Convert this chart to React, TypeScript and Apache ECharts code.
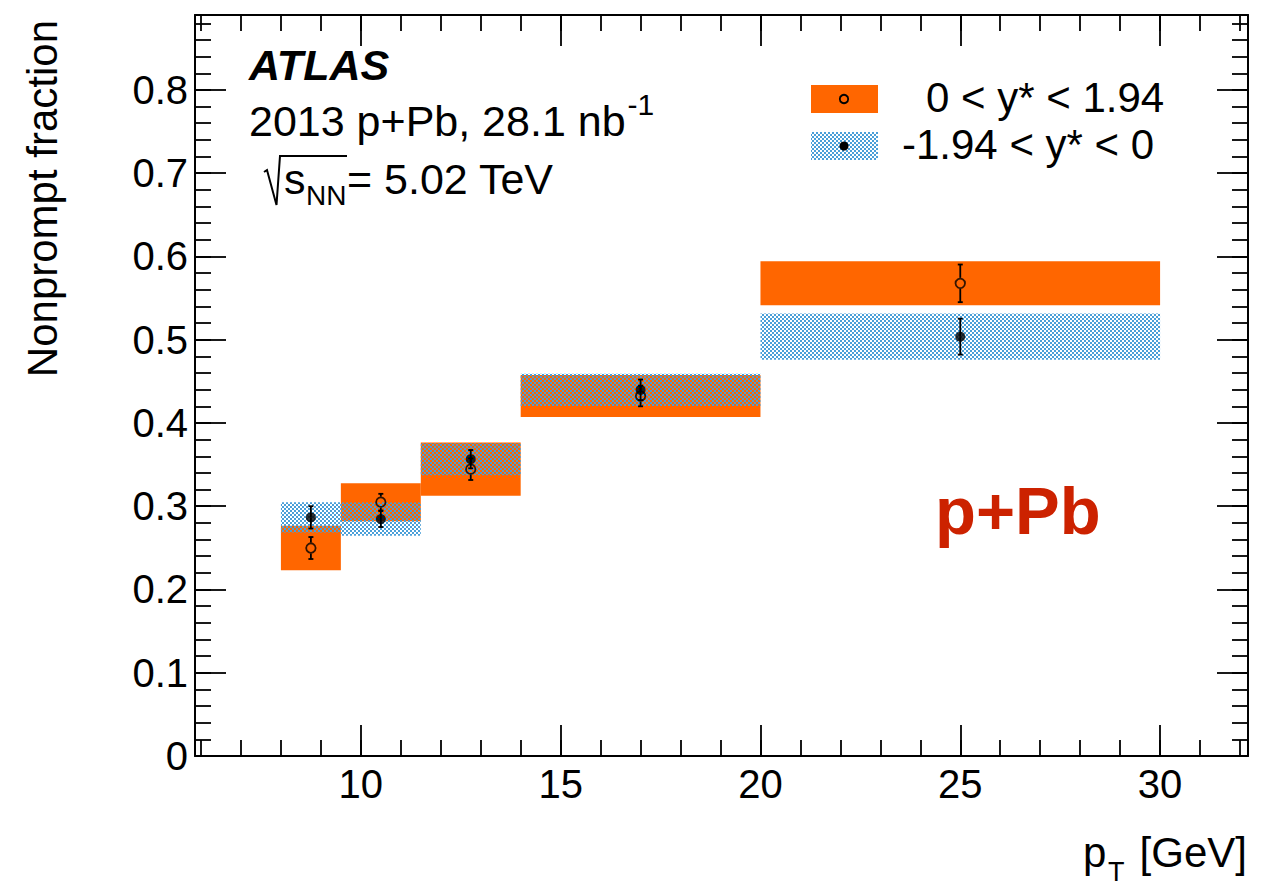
import React, { useEffect, useRef } from "react";
import * as echarts from "echarts";

// ---- Data ----
const binLow = [8, 9.5, 11.5, 14, 20];
const binHigh = [9.5, 11.5, 14, 20, 30];
const meanPt = [8.75, 10.5, 12.75, 17.0, 25.0];

// 0 < y* < 1.94 (orange, open markers)
const fwdValue = [0.2498, 0.3049, 0.3445, 0.4324, 0.5677];
const fwdStat = [0.0132, 0.01, 0.013, 0.0124, 0.0226];
const fwdSyst = [0.0266, 0.0228, 0.032, 0.0252, 0.0264];

// -1.94 < y* < 0 (blue hatched, filled markers)
const bwdValue = [0.2866, 0.2846, 0.3565, 0.4398, 0.5037];
const bwdStat = [0.0134, 0.0096, 0.011, 0.0124, 0.0216];
const bwdSyst = [0.0182, 0.02, 0.0192, 0.0194, 0.0278];

const xTickLabels = [10, 15, 20, 25, 30];
const yTickLabels = [0, 0.1, 0.2, 0.3, 0.4, 0.5, 0.6, 0.7, 0.8];

const legendLabels = ["0 < y* < 1.94", "-1.94 < y* < 0"];

const X_MIN = 5.85;
const X_MAX = 32.2;
const Y_MIN = 0;
const Y_MAX = 0.89;

const FONT = '"Liberation Sans", Arial, Helvetica, sans-serif';
const ORANGE = "#ff6600";
const BLUE = "#4a9fd8";

const xMinorTicks: number[] = [];
for (let v = 6; v <= 32; v++) xMinorTicks.push(v);
const yMinorTicks: number[] = [];
for (let k = 1; k <= 44; k++) yMinorTicks.push(+(k * 0.02).toFixed(2));

export default function App() {
  const ref = useRef<HTMLDivElement>(null);

  useEffect(() => {
    document.body.style.margin = "0";
    if (!ref.current) return;
    const chart = echarts.init(ref.current, null, { renderer: "svg" });

    // checker pattern for the hatched band
    const cv = document.createElement("canvas");
    cv.width = 4;
    cv.height = 4;
    const cx = cv.getContext("2d")!;
    cx.fillStyle = BLUE;
    cx.fillRect(0, 0, 2, 2);
    cx.fillRect(2, 2, 2, 2);
    const pattern: any = {
      image: cv.toDataURL(),
      repeat: "repeat",
      imageWidth: 4,
      imageHeight: 4,
    };

    const mc = document.createElement("canvas").getContext("2d")!;
    mc.font = `43px ${FONT}`;
    const lumiText = "2013 p+Pb, 28.1 nb";
    const lumiW = mc.measureText(lumiText).width;

    const boxSeries = (name: string, vals: number[], syst: number[], fill: any) => ({
      type: "custom",
      name,
      xAxisIndex: 0,
      yAxisIndex: 0,
      data: binLow.map((lo, i) => [lo, binHigh[i], vals[i], syst[i]]),
      encode: { x: [0, 1], y: 2 },
      renderItem: (_p: any, api: any) => {
        const p1 = api.coord([api.value(0), api.value(2) + api.value(3)]);
        const p2 = api.coord([api.value(1), api.value(2) - api.value(3)]);
        return {
          type: "rect",
          shape: { x: p1[0], y: p1[1], width: p2[0] - p1[0], height: p2[1] - p1[1] },
          style: { fill },
        };
      },
    });

    const errSeries = (name: string, vals: number[], stat: number[], gap: number) => ({
      type: "custom",
      name,
      xAxisIndex: 0,
      yAxisIndex: 0,
      data: meanPt.map((x, i) => [x, vals[i], stat[i]]),
      encode: { x: 0, y: 1 },
      renderItem: (_p: any, api: any) => {
        const x = api.value(0);
        const v = api.value(1);
        const e = api.value(2);
        const c = api.coord([x, v]);
        const t = api.coord([x, v + e]);
        const b = api.coord([x, v - e]);
        const st = { stroke: "#000", lineWidth: 1.8 };
        return {
          type: "group",
          children: [
            { type: "line", shape: { x1: c[0], y1: t[1], x2: c[0], y2: c[1] - gap }, style: st },
            { type: "line", shape: { x1: c[0], y1: c[1] + gap, x2: c[0], y2: b[1] }, style: st },
            { type: "line", shape: { x1: c[0] - 2.5, y1: t[1], x2: c[0] + 2.5, y2: t[1] }, style: st },
            { type: "line", shape: { x1: c[0] - 2.5, y1: b[1], x2: c[0] + 2.5, y2: b[1] }, style: st },
          ],
        };
      },
    });

    const tickLine = { color: "#000", width: 1.8 };
    const frameLine = { show: true, onZero: false, lineStyle: { color: "#000", width: 2 } };
    const hiddenLine = { show: false, onZero: false };

    const xAxisMajor = (position: "bottom" | "top", showLabel: boolean) => ({
      type: "value",
      gridIndex: 0,
      position,
      min: X_MIN,
      max: X_MAX,
      axisLine: frameLine,
      axisTick: { show: true, inside: true, length: 31, lineStyle: tickLine, customValues: xTickLabels },
      axisLabel: {
        show: showLabel,
        customValues: xTickLabels,
        fontSize: 40,
        fontFamily: FONT,
        color: "#000",
        margin: 8,
      },
      splitLine: { show: false },
    });
    const xAxisMinor = (position: "bottom" | "top") => ({
      type: "value",
      gridIndex: 1,
      position,
      min: X_MIN,
      max: X_MAX,
      axisLine: hiddenLine,
      axisTick: { show: true, inside: true, length: 16, lineStyle: tickLine, customValues: xMinorTicks },
      axisLabel: { show: false },
      splitLine: { show: false },
    });
    const yAxisMajor = (position: "left" | "right", showLabel: boolean) => ({
      type: "value",
      gridIndex: 0,
      position,
      min: Y_MIN,
      max: Y_MAX,
      axisLine: frameLine,
      axisTick: { show: true, inside: true, length: 31, lineStyle: tickLine, customValues: yTickLabels },
      axisLabel: {
        show: showLabel,
        customValues: yTickLabels,
        fontSize: 40,
        fontFamily: FONT,
        color: "#000",
        margin: 7,
        formatter: (v: number) => String(+(+v).toFixed(2)),
      },
      splitLine: { show: false },
    });
    const yAxisMinor = (position: "left" | "right") => ({
      type: "value",
      gridIndex: 1,
      position,
      min: Y_MIN,
      max: Y_MAX,
      axisLine: hiddenLine,
      axisTick: { show: true, inside: true, length: 16, lineStyle: tickLine, customValues: yMinorTicks },
      axisLabel: { show: false },
      splitLine: { show: false },
    });

    const txt = (text: string, x: number, y: number, size: number, extra: any = {}) => ({
      type: "text",
      x,
      y,
      silent: true,
      style: {
        text,
        fontSize: size,
        fontFamily: FONT,
        fill: "#000",
        align: "left",
        verticalAlign: "middle",
        ...extra,
      },
    });

    const gridRect = {
      left: 195,
      right: 24,
      top: 15,
      bottom: 133,
      containLabel: false,
      outerBoundsMode: "none",
    };

    const option: any = {
      animation: false,
      backgroundColor: "#fff",
      grid: [{ ...gridRect }, { ...gridRect }],
      xAxis: [xAxisMajor("bottom", true), xAxisMajor("top", false), xAxisMinor("bottom"), xAxisMinor("top")],
      yAxis: [yAxisMajor("left", true), yAxisMajor("right", false), yAxisMinor("left"), yAxisMinor("right")],
      series: [
        boxSeries(legendLabels[0] + " syst", fwdValue, fwdSyst, ORANGE),
        boxSeries(legendLabels[1] + " syst", bwdValue, bwdSyst, pattern),
        errSeries(legendLabels[0] + " stat", fwdValue, fwdStat, 5.5),
        errSeries(legendLabels[1] + " stat", bwdValue, bwdStat, 0),
        {
          type: "scatter",
          name: legendLabels[0],
          xAxisIndex: 0,
          yAxisIndex: 0,
          data: meanPt.map((x, i) => [x, fwdValue[i]]),
          symbol: "circle",
          symbolSize: 9.5,
          itemStyle: { color: "transparent", borderColor: "#000", borderWidth: 1.8 },
        },
        {
          type: "scatter",
          name: legendLabels[1],
          xAxisIndex: 0,
          yAxisIndex: 0,
          data: meanPt.map((x, i) => [x, bwdValue[i]]),
          symbol: "circle",
          symbolSize: 10,
          itemStyle: { color: "#000" },
        },
      ],
      graphic: [
        // y-axis title
        {
          ...txt("Nonprompt fraction", 42, 20, 42, { align: "right" }),
          rotation: Math.PI / 2,
        },
        // x-axis title
        txt("p", 1083, 852, 42),
        txt("T", 1108, 872, 27),
        txt("[GeV]", 1247, 852, 42, { align: "right" }),
        // ATLAS label
        txt("ATLAS", 249, 65, 43, { fontWeight: "bold", fontStyle: "italic" }),
        txt(lumiText, 249, 121, 43),
        txt("-1", 249 + lumiW + 2, 104, 30),
        // sqrt(sNN)
        {
          type: "polyline",
          silent: true,
          shape: { points: [[264, 172], [267, 170], [276.5, 205], [280, 156], [347, 156]] },
          style: { stroke: "#000", lineWidth: 2, fill: "none" },
        },
        txt("s", 284, 178.5, 43),
        txt("NN", 306, 195.5, 28),
        txt("= 5.02 TeV", 347, 178.5, 43),
        // legend
        { type: "rect", silent: true, shape: { x: 811, y: 85, width: 67, height: 28 }, style: { fill: ORANGE } },
        { type: "circle", silent: true, shape: { cx: 844, cy: 99, r: 4.2 }, style: { fill: "none", stroke: "#000", lineWidth: 1.8 } },
        { type: "rect", silent: true, shape: { x: 811, y: 132, width: 67, height: 28 }, style: { fill: pattern } },
        { type: "circle", silent: true, shape: { cx: 844, cy: 146, r: 4.5 }, style: { fill: "#000" } },
        txt(legendLabels[0], 926, 97.5, 42),
        txt(legendLabels[1], 902, 144, 42),
        // p+Pb label
        txt("p+Pb", 935, 510, 67, { fontWeight: "bold", fill: "#cc2200" }),
      ],
    };

    chart.setOption(option);
    return () => {
      chart.dispose();
    };
  }, []);

  return <div ref={ref} style={{ width: 1272, height: 889 }} />;
}
